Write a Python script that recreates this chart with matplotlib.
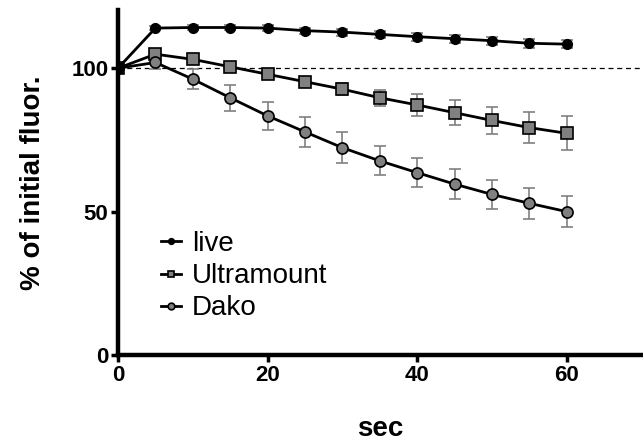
import numpy as np
import matplotlib.pyplot as plt

plt.rcParams['font.family'] = ['Liberation Sans', 'DejaVu Sans']

# time points (sec)
t = [0, 5, 10, 15, 20, 25, 30, 35, 40, 45, 50, 55, 60]

live = [100, 114.0, 114.2, 114.2, 114.0, 113.1, 112.6, 111.8, 111.0, 110.3, 109.6, 108.7, 108.4]
live_err = [0, 0.8, 0.8, 0.8, 1.0, 1.1, 1.2, 1.3, 1.4, 1.4, 1.4, 1.5, 1.5]

ultra = [100, 104.9, 103.1, 100.5, 97.9, 95.3, 92.7, 89.7, 87.2, 84.5, 81.8, 79.3, 77.3]
ultra_err = [0, 1.5, 1.0, 1.0, 1.2, 1.5, 2.0, 2.7, 3.7, 4.4, 4.8, 5.4, 5.9]

dako = [100, 102.0, 96.2, 89.7, 83.4, 77.8, 72.3, 67.7, 63.6, 59.6, 56.0, 52.9, 50.0]
dako_err = [0, 2.2, 3.5, 4.6, 4.8, 5.2, 5.4, 5.1, 5.1, 5.2, 5.2, 5.4, 5.4]

fig = plt.figure(figsize=(6.43, 4.45), dpi=100)
ax = fig.add_axes([0.1835, 0.2022, 0.8165, 0.7753])

ax.axhline(100, color='black', lw=0.9, ls=(0, (4, 3)), zorder=1)

ebkw = dict(ecolor='#808080', elinewidth=1.2, capsize=4, capthick=1.2)
e1 = ax.errorbar(t, live, yerr=live_err, color='black', lw=2, marker='o', ms=7,
                 mfc='black', mec='black', zorder=4, **ebkw)
e2 = ax.errorbar(t, ultra, yerr=ultra_err, color='black', lw=2, marker='s', ms=8,
                 mfc='#808080', mec='black', mew=1.2, zorder=3, **ebkw)
e3 = ax.errorbar(t, dako, yerr=dako_err, color='black', lw=2, marker='o', ms=8,
                 mfc='#808080', mec='black', mew=1.2, zorder=3, **ebkw)

ax.set_xlim(0, 70.2)
ax.set_ylim(0, 120.3)
ax.set_xticks([0, 20, 40, 60])
ax.set_yticks([0, 50, 100])

for s in ['top', 'right']:
    ax.spines[s].set_visible(False)
for s in ['left', 'bottom']:
    ax.spines[s].set_linewidth(3.2)
ax.tick_params(width=2.5, length=5, labelsize=16, pad=2)
for lab in ax.get_xticklabels() + ax.get_yticklabels():
    lab.set_fontweight('bold')

ax.set_ylabel('% of initial fluor.', fontsize=20, fontweight='bold', labelpad=18)
ax.set_xlabel('sec', fontsize=20, fontweight='bold', labelpad=22)

# legend uses only the data lines, no error bars
ax.legend([e1[0], e2[0], e3[0]], ['live', 'Ultramount', 'Dako'],
          loc='lower left', bbox_to_anchor=(0.035, 0.025), frameon=False,
          fontsize=20, handlelength=0.7, handletextpad=0.4,
          labelspacing=0.22, markerscale=0.6)

fig.savefig('out.png', dpi=100)
